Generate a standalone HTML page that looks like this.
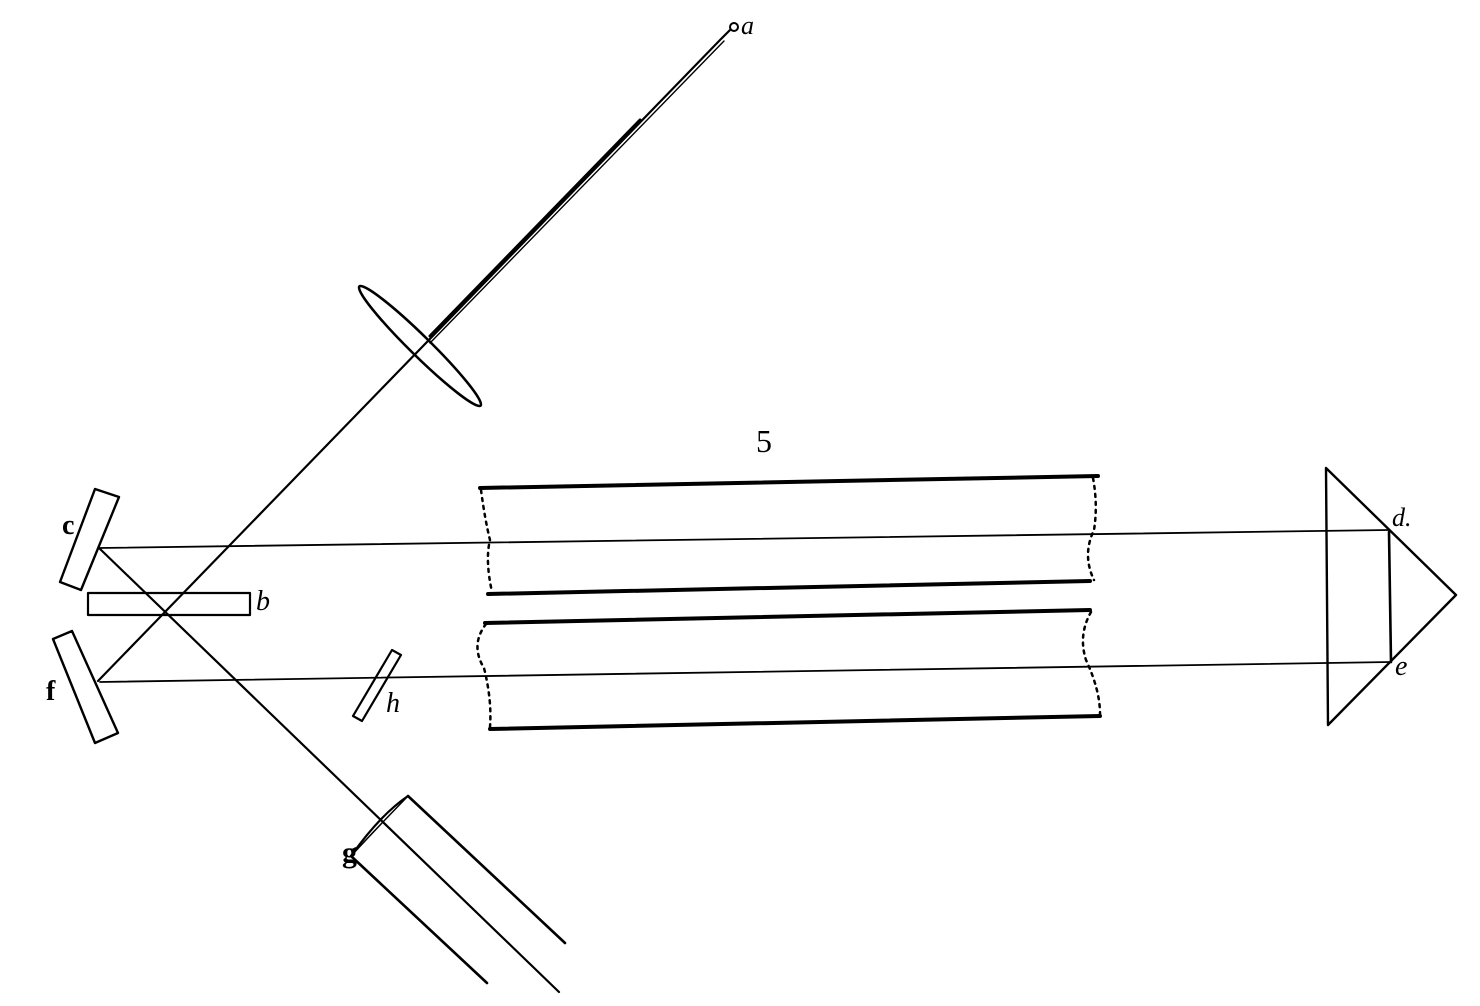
<!DOCTYPE html>
<html><head><style>
html,body{margin:0;padding:0;background:#fff;}
svg{display:block;}
text{font-family:"Liberation Serif",serif;font-style:italic;fill:#000;}
</style></head><body>
<svg width="1480" height="1006" viewBox="0 0 1480 1006" xmlns="http://www.w3.org/2000/svg">
<g stroke="#000" fill="none" stroke-linecap="round" stroke-linejoin="round">
<!-- source a -->
<circle cx="734" cy="27" r="4" stroke-width="2"/>
<path d="M730,30 L720,40 L98,681" stroke-width="2.2"/>
<path d="M722,40 L428,342" stroke-width="1.4" transform="translate(2,1)"/>
<path d="M640,120 L430,336" stroke-width="3"/>
<!-- lens -->
<ellipse cx="420" cy="346" rx="85" ry="10" transform="rotate(44.5 420 346)" stroke-width="2.6"/>
<!-- mirror c -->
<polygon points="95,489 119,497 81,590 60,582" stroke-width="2.4"/>
<!-- mirror f -->
<polygon points="53,639 72,631 118,733 95,743" stroke-width="2.4"/>
<!-- b -->
<rect x="88" y="593" width="162" height="22" stroke-width="2.2"/>
<!-- diagonal from c to telescope -->
<path d="M99,548 L559,992" stroke-width="2.2"/>
<!-- horizontal beams -->
<path d="M99,548 L1389,530" stroke-width="1.8"/>
<path d="M100,682 L1391,662" stroke-width="1.8"/>
<!-- prism -->
<polygon points="1326,468 1456,595 1328,725" stroke-width="2.4"/>
<path d="M1389,532 L1391,662" stroke-width="2.6"/>
<!-- h -->
<polygon points="392,650 401,655 362,721 353,716" stroke-width="2.2"/>
<!-- tubes -->
<path d="M480,488 L1098,476" stroke-width="4"/>
<path d="M488,594 L1090,581" stroke-width="4"/>
<path d="M485,623 L1090,610" stroke-width="4"/>
<path d="M490,729 L1100,716" stroke-width="4"/>
<g stroke-width="2.5" stroke-dasharray="3,5">
<path d="M481,490 Q485,520 490,540 Q485,560 492,592"/>
<path d="M1093,478 Q1098,505 1094,530 Q1082,555 1094,580"/>
<path d="M486,624 Q470,645 484,668 Q492,700 490,727"/>
<path d="M1091,612 Q1078,635 1086,660 Q1100,690 1100,714"/>
</g>
<!-- telescope -->
<path d="M408,796 L565,943" stroke-width="2.6"/>
<path d="M351,856 L487,983" stroke-width="2.6"/>
<path d="M408,796 Q380,815 351,856" stroke-width="2.2"/>
<path d="M408,796 Q375,830 351,856" stroke-width="1.5"/>
</g>
<text x="741" y="34" font-size="26">a</text>
<text x="756" y="452" font-size="32" style="font-style:normal">5</text>
<text x="62" y="534" font-size="28" font-weight="bold" style="font-style:normal">c</text>
<text x="256" y="610" font-size="28">b</text>
<text x="46" y="700" font-size="28" font-weight="bold" style="font-style:normal">f</text>
<text x="386" y="712" font-size="28">h</text>
<text x="342" y="862" font-size="30" font-weight="bold" style="font-style:normal">g</text>
<text x="1392" y="526" font-size="26">d.</text>
<text x="1395" y="675" font-size="28">e</text>
</svg>
</body></html>
